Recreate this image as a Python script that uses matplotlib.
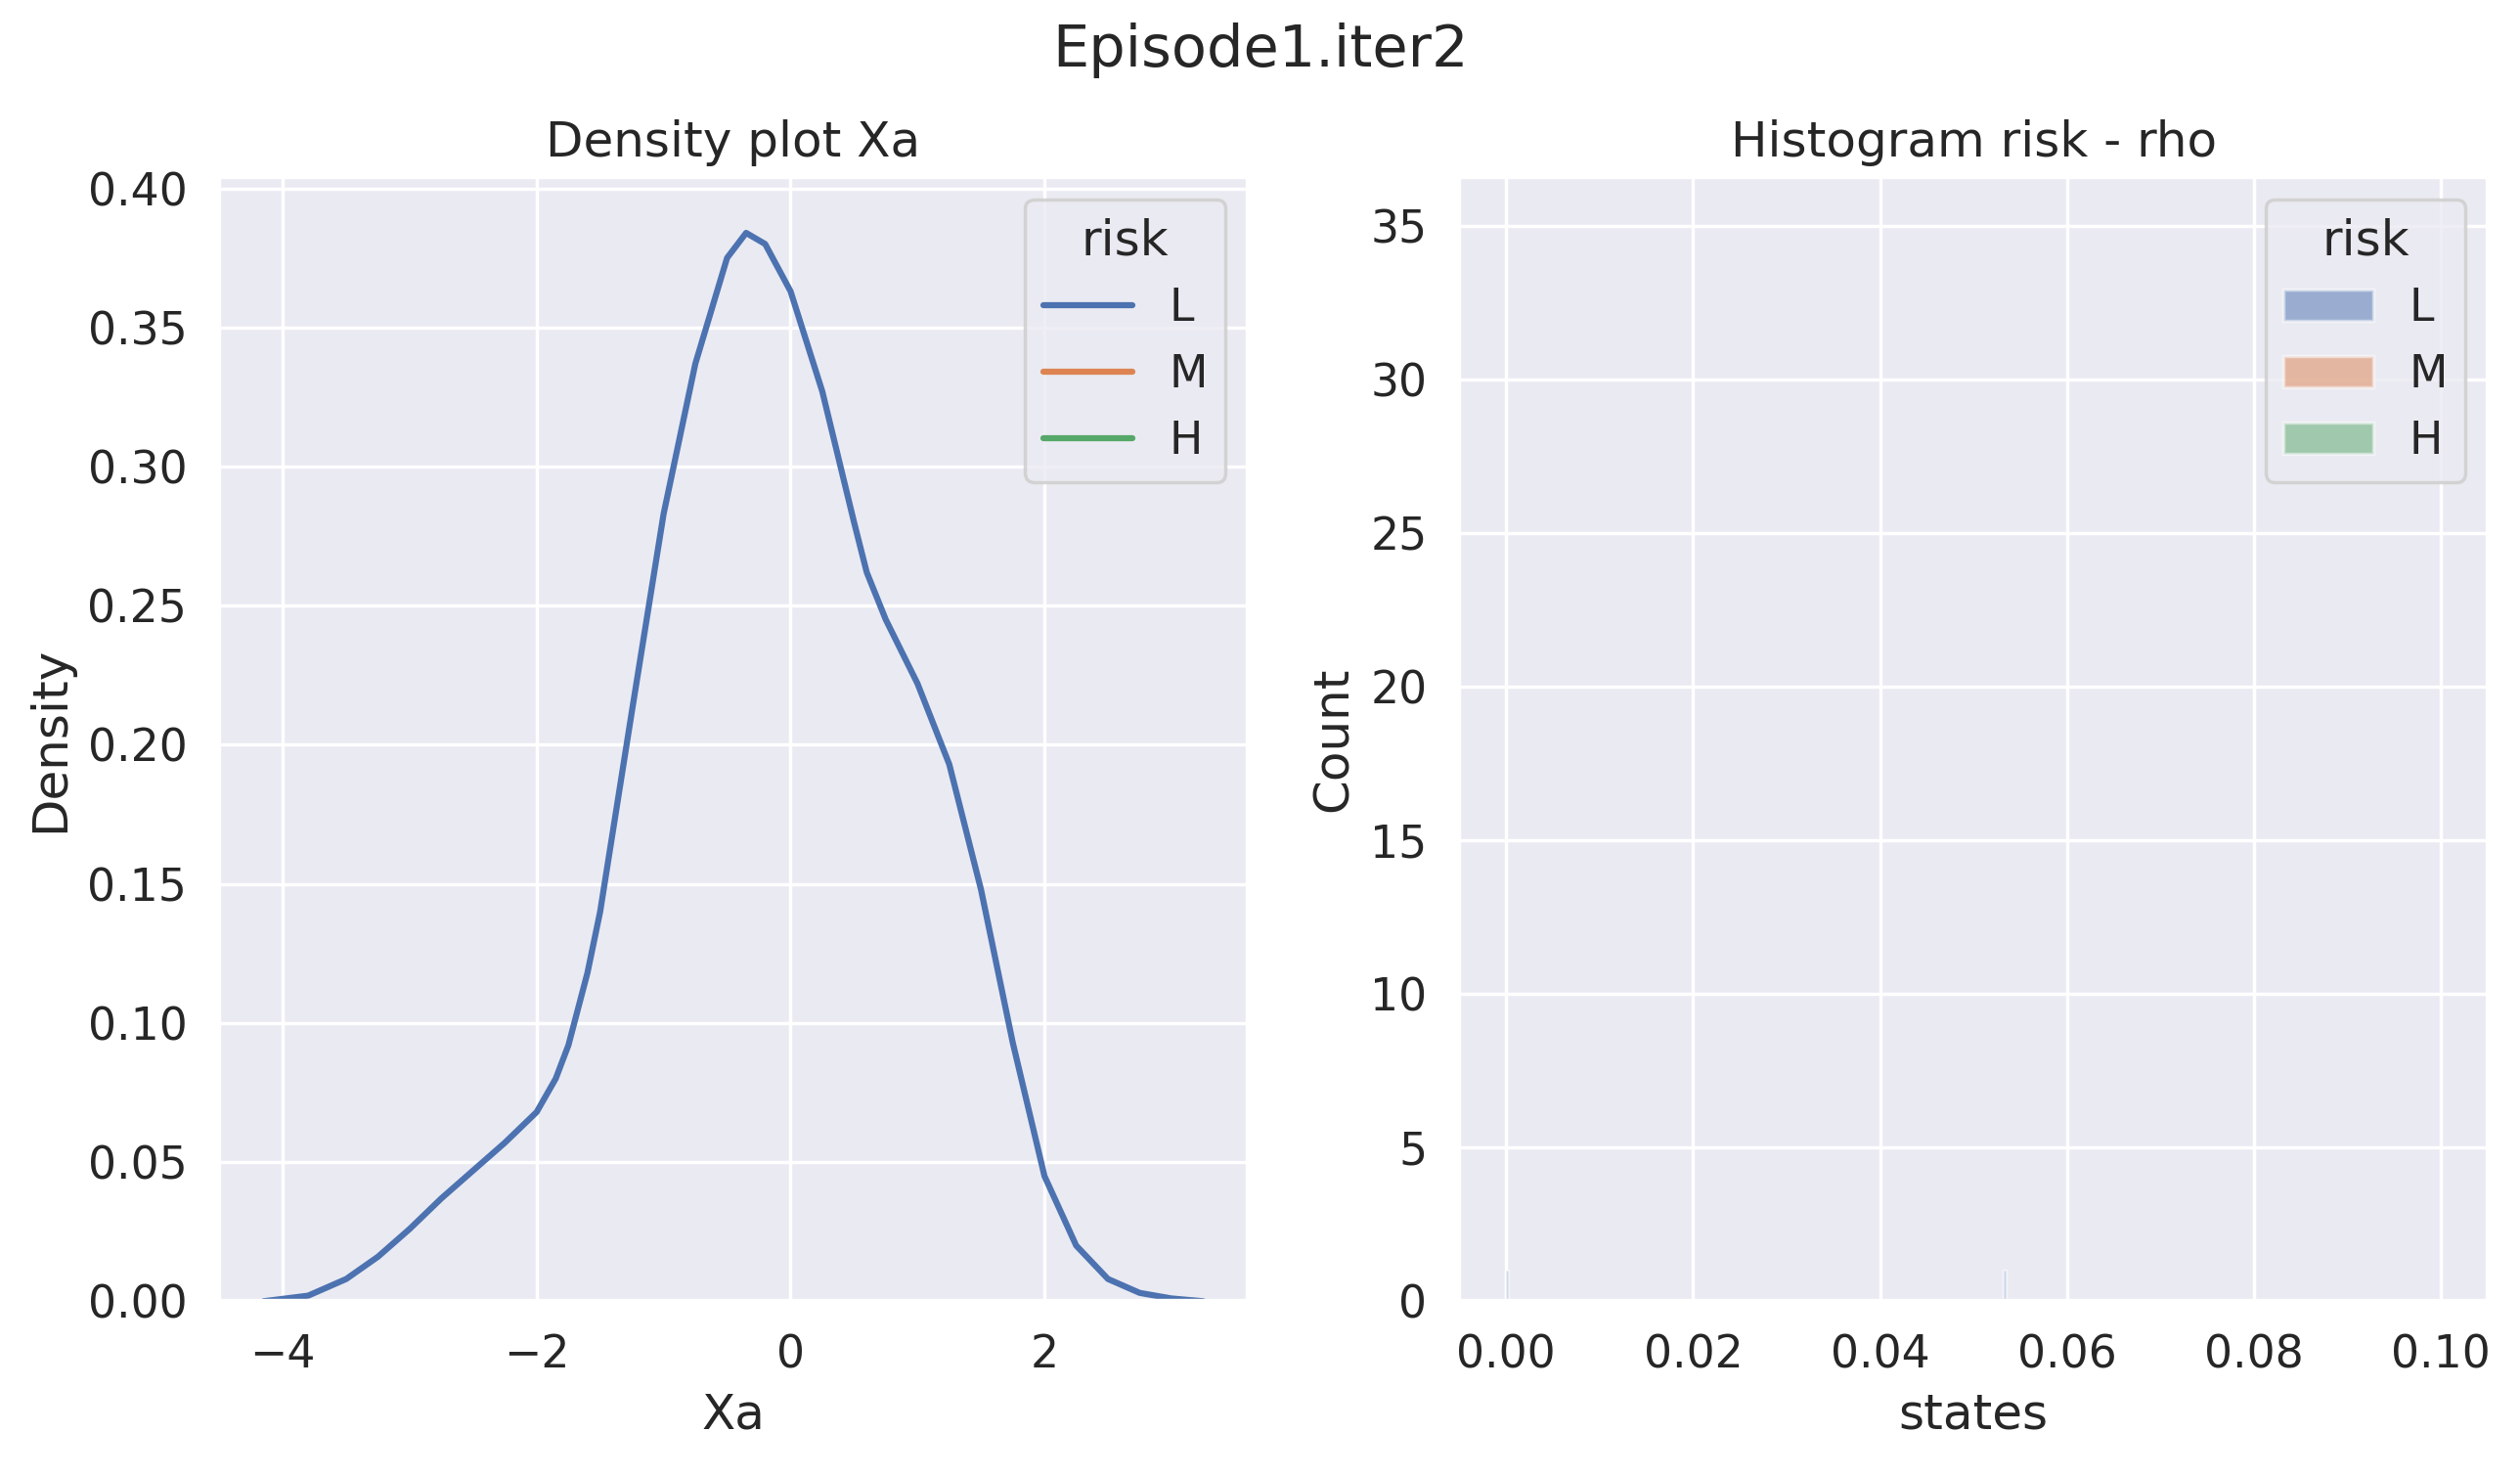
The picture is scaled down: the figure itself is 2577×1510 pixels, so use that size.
import numpy as np
import matplotlib.pyplot as plt
import seaborn as sns
from matplotlib.lines import Line2D
from matplotlib.patches import Patch

sns.set_theme(style='darkgrid', font_scale=1.2)

# KDE curve of Xa (risk L)
kde_x = [-4.15, -3.8, -3.5, -3.25, -3.0, -2.75, -2.5, -2.25, -2.0, -1.85, -1.75, -1.6, -1.5,
         -1.25, -1.0, -0.75, -0.5, -0.35, -0.2, 0.0, 0.25, 0.5, 0.6, 0.75, 1.0, 1.25,
         1.5, 1.75, 2.0, 2.25, 2.5, 2.75, 3.0, 3.25]
kde_y = [0.0, 0.002, 0.008, 0.016, 0.026, 0.037, 0.047, 0.057, 0.068, 0.080, 0.092, 0.118, 0.140,
         0.212, 0.283, 0.337, 0.375, 0.384, 0.380, 0.363, 0.327, 0.280, 0.262, 0.245, 0.222, 0.193,
         0.148, 0.093, 0.045, 0.020, 0.008, 0.003, 0.001, 0.0]

# histogram of rho (risk L)
hist_x = [0.0, 0.0532]
hist_count = [1, 1]

risk = ['L', 'M', 'H']
pal = sns.color_palette()

fig, (ax1, ax2) = plt.subplots(1, 2, figsize=(10.31, 6.04), dpi=250)
plt.subplots_adjust(left=0.087, right=0.987, top=0.88, bottom=0.119, wspace=0.206)
fig.suptitle('Episode1.iter2', fontsize=17, y=0.985)

ax1.plot(kde_x, kde_y, color=pal[0], linewidth=1.8)
ax1.set_xlim(-4.5, 3.6)
ax1.set_ylim(0, 0.404)
ax1.set_xlabel('Xa')
ax1.set_ylabel('Density')
ax1.set_title('Density plot Xa')
ax1.legend([Line2D([], [], color=pal[i], lw=1.8) for i in range(3)], risk, title='risk', loc='upper right')

ax2.bar(hist_x, hist_count, width=0.0002, color=pal[0], alpha=0.5, align='edge')
ax2.set_xlim(-0.005, 0.105)
ax2.set_ylim(0, 36.6)
ax2.set_xlabel('states')
ax2.set_ylabel('Count')
ax2.set_title('Histogram risk - rho')
ax2.legend([Patch(facecolor=pal[i], alpha=0.5, edgecolor='white') for i in range(3)], risk,
           title='risk', loc='upper right')

plt.savefig('out.png')
plt.close()
